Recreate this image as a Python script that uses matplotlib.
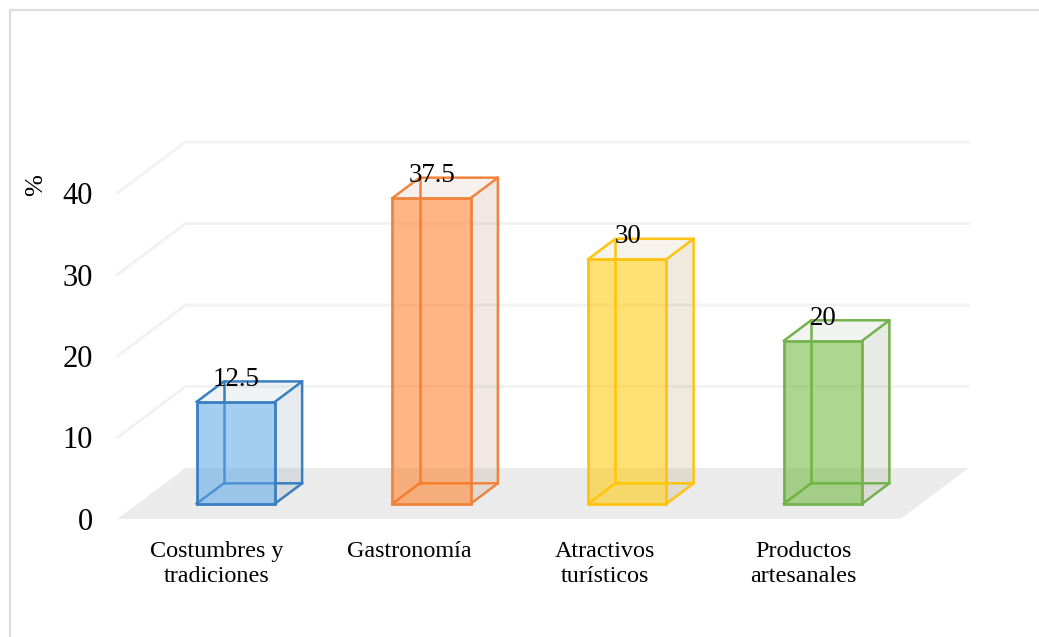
import matplotlib
matplotlib.use('Agg')
import matplotlib.pyplot as plt
from matplotlib.patches import Polygon
from matplotlib.lines import Line2D
from matplotlib.transforms import ScaledTranslation

plt.rcParams['font.family'] = ['Liberation Serif', 'DejaVu Serif']

categories = ['Costumbres y\ntradiciones', 'Gastronomía', 'Atractivos\nturísticos', 'Productos\nartesanales']
values = [12.5, 37.5, 30, 20]
value_labels = ['12.5', '37.5', '30', '20']
y_ticks = [0, 10, 20, 30, 40]
edge_colors = ['#3a7ec2', '#f0843c', '#ffc30f', '#74b24e']
front_colors = ['#5aa5e8', '#ff7a1f', '#ffc800', '#6bb637']
side_colors = ['#8ea6bd', '#c09a80', '#b5a66a', '#9aa68c']

W, H = 1039, 637
# depth of the floor in axis units (68 px across, 51 px up)
DX = 68 / 195.75
DY = 51 / 8.15
BAR_W = 0.4
D0, D1 = 0.3, 0.7


def shift(x, y, d):
    return (x + DX * d, y + DY * d)


fig = plt.figure(figsize=(W / 100, H / 100), dpi=100)
ax = fig.add_axes([117.5 / W, (H - 519) / H, 783 / W, 326 / H])
ax.set_xlim(-0.5, 3.5)
ax.set_ylim(0, 40)
for s in ax.spines.values():
    s.set_visible(False)
ax.patch.set_alpha(0)

# chart border, only top and left show up in the picture
fig.add_artist(Line2D([10 / W, 10 / W, 1], [0, 1 - 10 / H, 1 - 10 / H], color='#dedede', lw=1.6))

# floor and grid
ax.add_patch(Polygon([(-0.5, 0), (3.5, 0), shift(3.5, 0, 1), shift(-0.5, 0, 1)],
                     fc='#ebebeb', ec='none', clip_on=False, zorder=1))
for t in y_ticks[1:]:
    p = shift(-0.5, t, 1)
    q = shift(3.5, t, 1)
    ax.plot([-0.5, p[0], q[0]], [t, p[1], q[1]], color='#f2f2f2', lw=2, clip_on=False, zorder=1,
            solid_joinstyle='miter')


def box(i, v, ec, fc, sc):
    x0, x1 = i - BAR_W / 2, i + BAR_W / 2
    c = dict(clip_on=False)
    # right side and top
    side = [shift(x1, 0, D0), shift(x1, 0, D1), shift(x1, v, D1), shift(x1, v, D0)]
    top = [shift(x0, v, D0), shift(x1, v, D0), shift(x1, v, D1), shift(x0, v, D1)]
    ax.add_patch(Polygon(side, fc=sc, ec='none', alpha=0.22, zorder=2, **c))
    ax.add_patch(Polygon(top, fc=sc, ec='none', alpha=0.13, zorder=2, **c))
    # hidden edges at the back
    bx0 = shift(x0, 0, D0)
    bx1 = shift(x0, 0, D1)
    bx2 = shift(x1, 0, D1)
    tx1 = shift(x0, v, D1)
    tx2 = shift(x1, v, D1)
    ax.plot([bx0[0], bx1[0], bx2[0]], [bx0[1], bx1[1], bx2[1]], color=ec, lw=1.8, zorder=3, **c)
    ax.plot([bx1[0], tx1[0]], [bx1[1], tx1[1]], color=ec, lw=1.8, zorder=3, **c)
    ax.plot([shift(x0, v, D0)[0], tx1[0], tx2[0], shift(x1, v, D0)[0]],
            [shift(x0, v, D0)[1], tx1[1], tx2[1], shift(x1, v, D0)[1]], color=ec, lw=1.8, zorder=3, **c)
    ax.plot([tx2[0], bx2[0], shift(x1, 0, D0)[0]], [tx2[1], bx2[1], shift(x1, 0, D0)[1]], color=ec, lw=1.8, zorder=3, **c)
    # front face
    front = [shift(x0, 0, D0), shift(x1, 0, D0), shift(x1, v, D0), shift(x0, v, D0)]
    ax.add_patch(Polygon(front, fc=fc, ec='none', alpha=0.55, zorder=4, **c))
    ax.add_patch(Polygon(front, fc='none', ec=ec, lw=2, zorder=5, **c))


for i in range(len(values)):
    box(i, values[i], edge_colors[i], front_colors[i], side_colors[i])
    cx, cy = shift(i, values[i], D1)
    ax.text(cx - DX * 0.395, cy + 0.25, value_labels[i], ha='center', va='center', fontsize=19.4,
            color='black', zorder=6, clip_on=False)

ax.set_yticks(y_ticks)
ax.set_yticklabels(y_ticks, fontsize=22)
ax.set_xticks(range(len(categories)))
ax.set_xticklabels(categories, fontsize=17.4, linespacing=1.3)
ax.tick_params(axis='y', length=0, pad=17.5)
ax.tick_params(axis='x', length=0, pad=15.5)

# the two middle labels sit a little left of their slots
for lab in ax.get_xticklabels()[1:3]:
    lab.set_transform(lab.get_transform() + ScaledTranslation(-2 / 100, 0, fig.dpi_scale_trans))
for lab in [ax.get_xticklabels()[0], ax.get_xticklabels()[3]]:
    lab.set_transform(lab.get_transform() + ScaledTranslation(1 / 100, 0, fig.dpi_scale_trans))

fig.text(36 / W, 1 - 185 / H, '%', rotation=90, ha='center', va='center', fontsize=19)

fig.savefig('out.png', dpi=100, facecolor='white')
